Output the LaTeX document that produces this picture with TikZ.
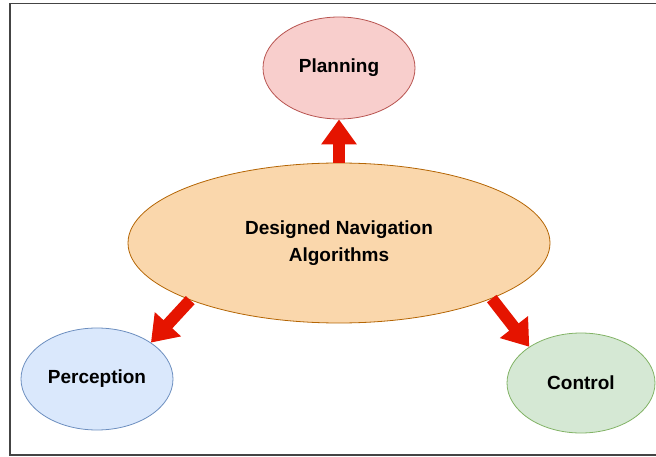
\documentclass[tikz,border=0pt]{standalone}
\usepackage{fontspec}
\setmainfont{Liberation Sans}
\usetikzlibrary{arrows.meta,calc,shapes.geometric}
\definecolor{planfill}{HTML}{F8CECC}
\definecolor{planline}{HTML}{B85450}
\definecolor{mainfill}{HTML}{FAD7AC}
\definecolor{mainline}{HTML}{B46504}
\definecolor{percfill}{HTML}{DAE8FC}
\definecolor{percline}{HTML}{6C8EBF}
\definecolor{ctrlfill}{HTML}{D5E8D4}
\definecolor{ctrlline}{HTML}{82B366}
\definecolor{arrowred}{HTML}{E51400}
\definecolor{framecol}{HTML}{444444}
\tikzset{
  ell/.style={ellipse, draw, line width=0.8pt, inner sep=0pt, align=center,
    font=\bfseries\fontsize{19}{27}\selectfont},
  bigarrow/.style={draw=arrowred, line width=12pt,
    -{Triangle[length=25pt, width=34pt]}},
}
\begin{document}
\begin{tikzpicture}[x=1pt,y=-1pt]
\useasboundingbox (0,0) rectangle (656,457);
\draw[framecol, line width=1.3pt] (10,3.5) rectangle (664,455);
\node[ell, fill=planfill, draw=planline, minimum width=152pt, minimum height=102pt] (plan) at (339,68) {Planning};
\node[ell, fill=mainfill, draw=mainline, minimum width=422pt, minimum height=160pt] (main) at (339,243) {Designed Navigation\\Algorithms};
\node[ell, fill=percfill, draw=percline, minimum width=152pt, minimum height=102pt] (perc) at (97,379) {Perception};
\node[ell, fill=ctrlfill, draw=ctrlline, minimum width=148pt, minimum height=100pt] (ctrl) at (581,383) {Control};
\draw[bigarrow] (main.north) -- (plan.south);
\draw[bigarrow] (main.201) -- (perc.34);
\draw[bigarrow] (main.-20) -- (ctrl.145);
\end{tikzpicture}
\end{document}
